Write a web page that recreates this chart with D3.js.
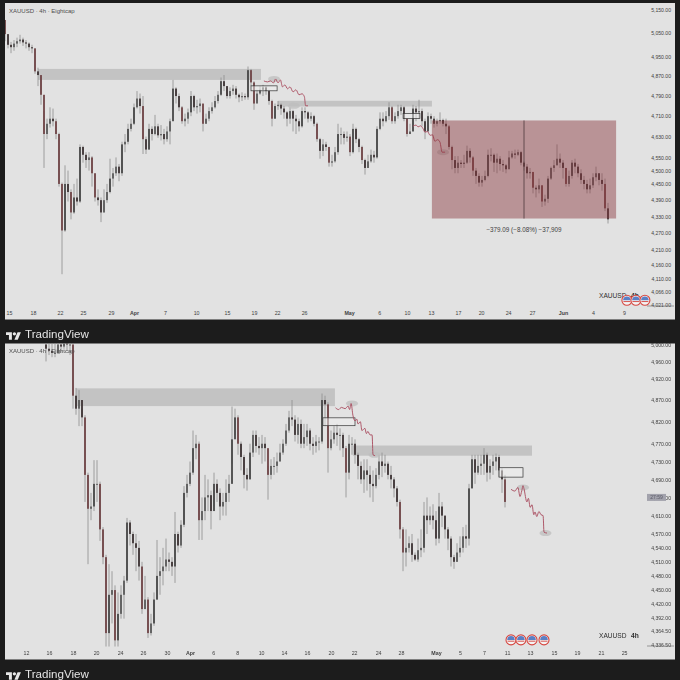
<!DOCTYPE html>
<html><head><meta charset="utf-8">
<script src="https://cdn.jsdelivr.net/npm/d3@7/dist/d3.min.js"></script>
<style>html,body{margin:0;padding:0;background:#1c1c1c}svg{display:block;filter:blur(.35px)}text{font-family:"Liberation Sans",sans-serif}</style>
</head><body><svg id="c" width="680" height="680"></svg>
<script>
// ---- upper pane data (prices, 1 entry per candle) ----
const topOpen0 = 5105;
const topClose = [5045,5000,4990,5005,5015,5022,5010,5005,4990,4985,4890,4875,4795,4640,4680,4700,4690,4640,4450,4280,
4450,4420,4345,4400,4385,4590,4560,4540,4550,4490,4400,4390,4345,4390,4420,4470,4490,4515,4490,4600,
4610,4660,4680,4745,4780,4750,4620,4580,4660,4640,4670,4635,4640,4620,4650,4690,4820,4790,4745,4690,
4700,4725,4790,4745,4750,4760,4680,4700,4730,4745,4770,4795,4850,4830,4790,4810,4820,4795,4785,4790,
4785,4895,4845,4760,4800,4815,4825,4810,4770,4700,4750,4755,4740,4725,4700,4730,4700,4690,4670,4730,
4725,4700,4710,4680,4620,4575,4600,4590,4530,4535,4570,4640,4640,4625,4630,4570,4660,4620,4590,4540,
4510,4535,4560,4550,4660,4700,4690,4710,4745,4690,4710,4730,4745,4700,4640,4650,4740,4725,4730,4690,
4650,4710,4700,4680,4690,4695,4680,4670,4590,4540,4510,4530,4525,4530,4575,4550,4500,4480,4455,4465,
4480,4560,4560,4530,4545,4525,4520,4505,4550,4565,4560,4570,4530,4515,4490,4495,4436,4430,4445,4385,
4395,4470,4510,4520,4545,4530,4510,4450,4480,4530,4515,4490,4465,4450,4430,4445,4475,4490,4465,4450,
4360,4320];
const topHigh = [5105,5020,5012,5020,5030,5042,5030,5020,5010,5000,4985,4905,4870,4730,4700,4745,4740,4700,4645,4455,
4520,4500,4430,4450,4470,4600,4595,4570,4570,4555,4490,4430,4400,4430,4450,4545,4510,4550,4525,4610,
4640,4680,4700,4760,4810,4800,4790,4630,4680,4670,4715,4680,4675,4660,4670,4700,4855,4825,4800,4750,
4720,4740,4810,4795,4775,4780,4735,4720,4745,4765,4790,4810,4865,4875,4830,4825,4835,4830,4800,4805,
4800,4910,4900,4850,4815,4830,4835,4830,4815,4775,4760,4770,4760,4750,4730,4745,4735,4715,4700,4745,
4745,4730,4725,4715,4685,4625,4620,4610,4590,4560,4590,4680,4665,4650,4650,4640,4680,4665,4625,4595,
4545,4560,4580,4575,4670,4725,4725,4730,4765,4750,4725,4755,4755,4750,4700,4680,4755,4750,4775,4740,
4700,4725,4720,4710,4700,4725,4700,4700,4675,4595,4555,4555,4540,4560,4595,4585,4555,4510,4490,4480,
4500,4580,4585,4565,4565,4555,4540,4525,4575,4575,4580,4580,4575,4535,4525,4510,4490,4445,4470,4445,
4410,4480,4515,4540,4600,4565,4540,4510,4500,4540,4545,4525,4505,4480,4465,4470,4490,4515,4490,4490,
4470,4380];
const topLow = [5015,4985,4965,4975,4990,5005,4995,4985,4975,4965,4880,4830,4755,4510,4620,4665,4670,4620,4440,4126,
4275,4385,4320,4340,4370,4380,4530,4510,4500,4440,4385,4370,4310,4345,4380,4415,4440,4480,4460,4480,
4570,4600,4650,4675,4740,4720,4563,4563,4580,4615,4635,4625,4615,4600,4610,4600,4735,4760,4730,4680,
4670,4680,4710,4730,4720,4725,4650,4680,4690,4720,4740,4760,4790,4810,4780,4780,4795,4780,4765,4770,
4775,4775,4830,4735,4770,4795,4790,4795,4755,4670,4700,4735,4715,4700,4670,4680,4650,4640,4650,4665,
4700,4685,4690,4670,4610,4545,4555,4575,4515,4515,4530,4560,4600,4600,4610,4555,4565,4605,4570,4525,
4485,4510,4530,4530,4545,4655,4670,4685,4695,4680,4680,4700,4715,4690,4630,4640,4650,4690,4700,4670,
4620,4650,4680,4665,4670,4680,4670,4640,4580,4505,4490,4490,4510,4510,4525,4530,4480,4450,4440,4440,
4460,4475,4535,4495,4490,4500,4495,4490,4520,4545,4545,4555,4520,4500,4470,4470,4415,4400,4415,4365,
4370,4380,4465,4495,4520,4510,4470,4440,4440,4470,4490,4475,4450,4430,4415,4415,4435,4460,4445,4425,
4350,4305];
const topPriceTicks = [5150,5050,4950,4870,4790,4710,4630,4550,4500,4450,4390,4330,4270,4210,4160,4110,4066,4021];
const topDateLabels = ["15","18","22","25","29","Apr","7","10","15","19","22","26","May","6","10","13","17","20","24","27","Jun","4","9"];
const topDateBars = [1.3,9.3,18.3,26,35.3,43,53.3,63.7,74,83,90.7,99.7,114.7,124.7,134,142,151,158.7,167.7,175.7,186,196,206.3];
const topZones = [[11,85.3,4900,4855],[91,142.3,4771,4748]];
const topBoxes = [[82,90.7,4831,4811],[132.7,138.3,4720,4701]];
const topPathBars = [[86.3,87.5,88.5,89.5,90.2,91,91.8,92.5,93.3,94.2,95,96,97,98,99,99.8,100.2,101],
 [136,137,137.7,138.5,139.3,140,140.8,141.7,142.5,143.3,144.2,145,145.7,146.7]];
const topPathPrices = [[4851,4847,4851,4843,4859,4843,4855,4827,4835,4819,4827,4807,4815,4795,4799,4787,4751,4751],
 [4670,4675,4668,4672,4662,4647,4650,4635,4637,4612,4618,4608,4570,4570]];
const topBlobs = [[89.7,4859],[96.3,4751],[146,4570]];
const topBadges = [207.3,210.3,213.3];
const measureBox = [142.3,203.7,4693,4323];
const measureMidBar = 173;
const measureLabel = "\u2212379.09 (\u22128.08%) \u221237,909";

// ---- lower pane data ----
const lowOpen0 = 5000;
const lowClose = [4990,4985,4980,4980,5000,4995,5005,5000,5000,4880,4850,4870,4830,4700,4625,4630,4680,4680,4580,4520,
4360,4440,4450,4345,4400,4440,4470,4595,4570,4550,4540,4500,4410,4430,4360,4380,4430,4480,4490,4500,
4515,4510,4500,4570,4545,4590,4660,4680,4705,4760,4770,4600,4620,4650,4655,4620,4680,4660,4630,4640,
4660,4680,4780,4830,4770,4740,4700,4690,4750,4790,4765,4760,4770,4760,4700,4720,4720,4730,4750,4770,
4800,4830,4825,4790,4815,4770,4785,4800,4770,4765,4775,4775,4870,4860,4760,4780,4795,4790,4790,4760,
4705,4770,4770,4745,4720,4690,4710,4700,4680,4675,4700,4730,4720,4725,4700,4690,4670,4640,4580,4530,
4540,4550,4525,4515,4535,4540,4610,4600,4610,4600,4560,4630,4610,4580,4560,4520,4510,4530,4540,4565,
4560,4670,4735,4705,4720,4725,4745,4705,4720,4730,4740,4710,4690,4640];
const lowHigh = [5010,5010,5005,5010,5020,5020,5030,5020,5015,5000,4898,4893,4850,4835,4705,4660,4733,4733,4685,4585,
4525,4505,4490,4460,4445,4460,4480,4605,4600,4575,4570,4555,4510,4480,4435,4400,4445,4557,4520,4540,
4560,4530,4520,4618,4575,4600,4675,4700,4730,4800,4790,4775,4650,4700,4690,4665,4705,4690,4670,4660,
4690,4700,4855,4850,4835,4775,4745,4715,4770,4800,4800,4785,4790,4785,4720,4735,4740,4750,4770,4780,
4815,4845,4870,4835,4830,4825,4815,4815,4805,4785,4790,4785,4885,4880,4865,4800,4810,4815,4805,4795,
4765,4790,4785,4780,4750,4730,4735,4735,4720,4710,4715,4745,4750,4745,4730,4720,4695,4675,4645,4585,
4580,4565,4570,4530,4560,4580,4640,4650,4630,4635,4620,4660,4640,4610,4585,4565,4525,4550,4565,4585,
4590,4680,4745,4745,4745,4745,4760,4750,4735,4745,4748,4745,4715,4700];
const lowLow = [4960,4975,4970,4970,4985,4980,4990,4985,4975,4850,4836,4810,4810,4640,4505,4600,4620,4640,4555,4505,
4331,4331,4380,4331,4331,4390,4390,4465,4545,4525,4490,4470,4400,4410,4350,4355,4375,4429,4440,4460,
4490,4490,4480,4465,4530,4540,4585,4650,4675,4700,4735,4557,4557,4600,4620,4580,4630,4640,4600,4610,
4610,4640,4725,4790,4745,4710,4670,4665,4690,4740,4750,4745,4725,4730,4645,4690,4700,4705,4730,4745,
4765,4795,4810,4775,4770,4760,4760,4765,4755,4745,4750,4755,4770,4810,4705,4755,4770,4765,4755,4740,
4650,4690,4745,4725,4690,4680,4660,4665,4650,4640,4670,4690,4695,4705,4690,4670,4650,4630,4560,4490,
4500,4530,4510,4512,4510,4520,4530,4570,4590,4580,4545,4550,4585,4560,4535,4500,4495,4510,4520,4530,
4540,4545,4670,4680,4700,4700,4700,4685,4690,4700,4710,4695,4660,4628];
const lowPriceTicks = [5000,4960,4920,4870,4820,4770,4730,4690,4650,4610,4570,4540,4510,4480,4450,4420,4392,4364.5,4336.5];
const lowDateLabels = ["12","16","18","20","24","26","30","Apr","6","8","10","14","16","20","22","24","28","May","5","7","11","13","15","19","21","25"];
const lowDateBars = [-6.7,1,9,16.7,24.7,32.3,40.3,48,55.7,63.7,71.7,79.3,87,95,102.7,110.7,118.3,130,138,146,153.7,161.3,169.3,177,185,192.7];
const lowZones = [[10,96.3,4897,4856],[102.3,162,4766,4743]];
const lowBoxes = [[92.3,103,4829,4811],[151,159,4716,4695]];
const lowPathBars = [[96.5,97.5,98.5,99.7,100.7,101.2,101.7,102.3,103,103.6,104,104.8,105.3,106.3,106.8,107.3,108,108.7,109,109.7],
 [155,156.3,157.3,158,158.6,159,159.3,160.3,160.8,161.4,162,162.6,163,163.6,164.3,165,165.7,166,167]];
const lowPathPrices = [[4852,4848,4853,4850,4856,4848,4862,4835,4822,4826,4815,4820,4800,4805,4793,4798,4790,4790,4745,4743],
 [4668,4664,4672,4652,4665,4676,4670,4640,4648,4628,4634,4612,4618,4608,4619,4612,4610,4574,4572]];
const lowBlobs = [[102,4862],[109.5,4745],[159,4672],[166.5,4572]];
const lowBadges = [155,158.3,162,166];
const lastPriceTag = "27:59";
const lastPrice = 4650;
const titleText = "XAUUSD \u00b7 4h \u00b7 Eightcap";
const symbolText = "XAUUSD";
const intervalText = "4h";
const brandText = "TradingView";

const svg = d3.select("#c");
const fmt = d3.format(",.2f");
const ink = "#3f3f3f";

function drawPane(cfg){
  const {id,top,bottom,xRange,n} = cfg;
  const x = d3.scaleLinear().domain([0,n-1]).range(xRange);
  const y = d3.scaleLog().domain(cfg.pDomain).range(cfg.yRange);
  const g = svg.append("g");
  g.append("rect").attr("x",5).attr("y",top).attr("width",670).attr("height",bottom-top).attr("fill","#e2e2e2");
  const clipId = "clip"+id;
  svg.append("clipPath").attr("id",clipId).append("rect").attr("x",5).attr("y",top).attr("width",640).attr("height",cfg.plotBottom-top);
  const plot = g.append("g").attr("clip-path",`url(#${clipId})`);

  plot.selectAll(".zone").data(cfg.zones).join("rect")
    .attr("x",d=>x(d[0])).attr("width",d=>x(d[1])-x(d[0]))
    .attr("y",d=>y(d[2])).attr("height",d=>y(d[3])-y(d[2])).attr("fill","#c3c3c3");

  const candles = cfg.close.map((c,i)=>({i,o:i?cfg.close[i-1]:cfg.open0,c,h:cfg.high[i],l:cfg.low[i]}));
  plot.selectAll(".wick").data(candles).join("line")
    .attr("x1",d=>x(d.i)).attr("x2",d=>x(d.i))
    .attr("y1",d=>y(d.h)).attr("y2",d=>y(d.l))
    .attr("stroke","#8e8e8e").attr("stroke-width",.8);
  plot.selectAll(".body").data(candles).join("rect")
    .attr("x",d=>x(d.i)-.9).attr("width",1.8)
    .attr("y",d=>y(Math.max(d.o,d.c)))
    .attr("height",d=>Math.max(1,Math.abs(y(d.o)-y(d.c))))
    .attr("fill",d=>d.c<d.o ? (d.o-d.c>45?"#6f4446":"#3c3234") : (d.c-d.o>45?"#484848":"#5a5a5a"));

  plot.selectAll(".box").data(cfg.boxes).join("rect")
    .attr("x",d=>x(d[0])).attr("width",d=>x(d[1])-x(d[0]))
    .attr("y",d=>y(d[2])).attr("height",d=>y(d[3])-y(d[2]))
    .attr("fill","#f0f0f0").attr("fill-opacity",.5).attr("stroke","#333").attr("stroke-width",.7);

  plot.selectAll(".blob").data(cfg.blobs).join("ellipse")
    .attr("cx",d=>x(d[0])).attr("cy",d=>y(d[1])).attr("rx",6).attr("ry",3).attr("fill","#bdbdbd").attr("opacity",.75);
  const line = d3.line().x(d=>x(d[0])).y(d=>y(d[1])).curve(d3.curveMonotoneX);
  cfg.pathBars.forEach((b,k)=>{
    plot.append("path").attr("d",line(b.map((v,i)=>[v,cfg.pathPrices[k][i]])))
      .attr("fill","none").attr("stroke","#a84a5c").attr("stroke-width",.9);
  });

  if(cfg.measure){
    const m = cfg.measure;
    plot.append("rect").attr("x",x(m[0])).attr("width",x(m[1])-x(m[0]))
      .attr("y",y(m[2])).attr("height",y(m[3])-y(m[2])).attr("fill","rgb(136,50,58)").attr("fill-opacity",.45);
    plot.append("line").attr("x1",x(measureMidBar)).attr("x2",x(measureMidBar))
      .attr("y1",y(m[2])).attr("y2",y(m[3])).attr("stroke","#5a4446").attr("stroke-width",.9);
    plot.append("text").attr("x",x(measureMidBar)).attr("y",y(m[3])+13.5)
      .attr("text-anchor","middle").attr("font-size",6.3).attr("fill",ink).text(measureLabel);
  }

  const ya = g.append("g").attr("transform","translate(671,0)")
    .call(d3.axisRight(y).tickValues(cfg.priceTicks).tickFormat(fmt).tickSize(0).tickPadding(0));
  ya.select(".domain").remove();
  ya.selectAll("text").attr("text-anchor","end").attr("font-size",5.1).attr("fill",ink).attr("font-family","Liberation Sans");

  const xa = g.append("g").attr("transform",`translate(0,${cfg.plotBottom+2})`)
    .call(d3.axisBottom(x).tickValues(cfg.dateBars).tickFormat((d,i)=>cfg.dateLabels[i]).tickSize(0).tickPadding(3));
  xa.select(".domain").remove();
  xa.selectAll("text").attr("font-size",5.3).attr("fill",ink).attr("font-family","Liberation Sans")
    .attr("font-weight",(d,i)=>/[A-Z]/.test(cfg.dateLabels[i])?"700":"400");

  g.append("line").attr("x1",647).attr("x2",674).attr("y1",cfg.cornerY).attr("y2",cfg.cornerY).attr("stroke","#666").attr("stroke-width",.6);

  g.append("text").attr("x",9).attr("y",top+9.5).attr("font-size",6).attr("fill","#4e4e4e").text(titleText);

  g.append("text").attr("x",599).attr("y",cfg.symY).attr("font-size",6.6).attr("fill","#2d2d2d").text(symbolText);
  g.append("text").attr("x",631).attr("y",cfg.symY).attr("font-size",6.6).attr("font-weight","700").attr("fill","#2d2d2d").text(intervalText);

  const by = y(cfg.badgePrice);
  const badge = g.selectAll(".badge").data(cfg.badges).join("g").attr("transform",d=>`translate(${x(d)},${by})`);
  badge.append("circle").attr("r",5).attr("fill","#f4f4f4").attr("stroke","#d6453f").attr("stroke-width",1.1);
  badge.append("path").attr("d",d3.arc()({innerRadius:0,outerRadius:3.8,startAngle:-Math.PI/2,endAngle:Math.PI/2})).attr("fill","#5b7fc4");
  badge.append("rect").attr("x",-3.5).attr("y",.8).attr("width",7).attr("height",1).attr("fill","#d6554f");

  if(cfg.tag){
    g.append("rect").attr("x",647).attr("y",y(lastPrice)-3.5).attr("width",19).attr("height",7).attr("fill","#a2a2ac");
    g.append("text").attr("x",656.5).attr("y",y(lastPrice)+1.8).attr("text-anchor","middle").attr("font-size",5).attr("fill","#5a5a66").text(cfg.tag);
  }

  const logo = svg.append("g").attr("transform",`translate(6,${bottom+11}) scale(.42)`).attr("fill","#e8e8e8");
  logo.append("path").attr("d","M14 22H7V11H0V4h14v18zM28 22h-8l7.5-18h8L28 22z");
  logo.append("circle").attr("cx",20).attr("cy",8).attr("r",4);
  svg.append("text").attr("x",25).attr("y",bottom+18).attr("font-size",11.6).attr("font-weight","400").attr("fill","#e4e4e4").text(brandText);
}

drawPane({id:"a",top:3,bottom:319.5,plotBottom:306,xRange:[5,5+3*(topClose.length-1)],n:topClose.length,
  pDomain:[5150,4021],yRange:[9.5,305],open0:topOpen0,close:topClose,high:topHigh,low:topLow,
  zones:topZones,boxes:topBoxes,blobs:topBlobs,pathBars:topPathBars,pathPrices:topPathPrices,
  measure:measureBox,priceTicks:topPriceTicks,dateBars:topDateBars,dateLabels:topDateLabels,
  cornerY:306,symY:298,badges:topBadges,badgePrice:4037});
drawPane({id:"b",top:343.5,bottom:659.5,plotBottom:646.5,xRange:[46,46+3*(lowClose.length-1)],n:lowClose.length,
  pDomain:[5000,4336.5],yRange:[344.5,644.5],open0:lowOpen0,close:lowClose,high:lowHigh,low:lowLow,
  zones:lowZones,boxes:lowBoxes,blobs:lowBlobs,pathBars:lowPathBars,pathPrices:lowPathPrices,
  priceTicks:lowPriceTicks,dateBars:lowDateBars,dateLabels:lowDateLabels,
  cornerY:646,symY:638,badges:lowBadges,badgePrice:4346,tag:lastPriceTag});
</script></body></html>
